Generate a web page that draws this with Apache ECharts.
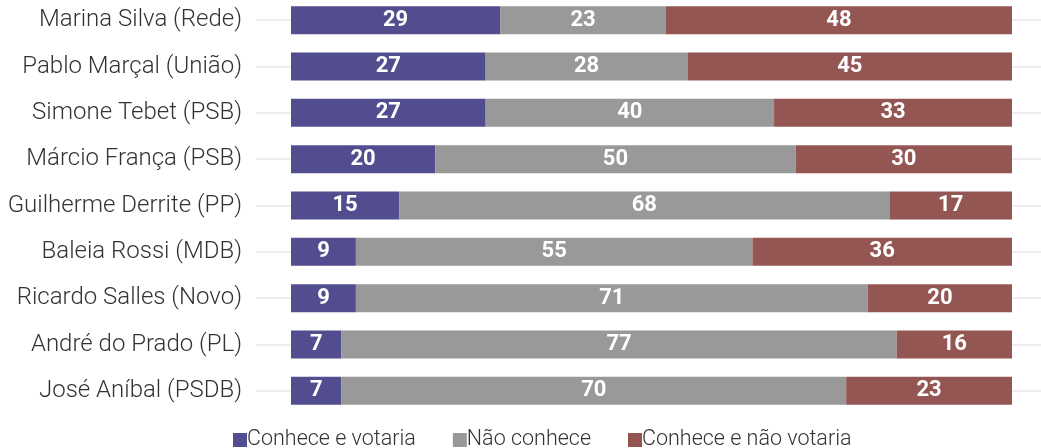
<!DOCTYPE html>
<html>
<head>
<meta charset="utf-8">
<script src="https://cdn.jsdelivr.net/npm/echarts@6/dist/echarts.min.js"></script>
<style>
html,body{margin:0;padding:0;background:#fff;overflow:hidden;}
#chart{position:absolute;left:0;top:-3px;width:1041px;height:451px;}
</style>
</head>
<body>
<div id="chart"></div>
<script>
const categories = [
  "Marina Silva (Rede)",
  "Pablo Marçal (União)",
  "Simone Tebet (PSB)",
  "Márcio França (PSB)",
  "Guilherme Derrite (PP)",
  "Baleia Rossi (MDB)",
  "Ricardo Salles (Novo)",
  "André do Prado (PL)",
  "José Aníbal (PSDB)"
];
const seriesNames = ["Conhece e votaria", "Não conhece", "Conhece e não votaria"];
const conheceVotaria = [29, 27, 27, 20, 15, 9, 9, 7, 7];
const naoConhece = [23, 28, 40, 50, 68, 55, 71, 77, 70];
const conheceNaoVotaria = [48, 45, 33, 30, 17, 36, 20, 16, 23];
const colors = ["#524D8F", "#999999", "#935653"];

const chart = echarts.init(document.getElementById('chart'));
const values = [conheceVotaria, naoConhece, conheceNaoVotaria];
const font = 'Roboto';

chart.setOption({
  animation: false,
  textStyle: { fontFamily: font },
  grid: { left: 291, right: 29, top: 0, height: 417, containLabel: false },
  legend: {
    left: 228,
    top: 427,
    itemWidth: 14,
    itemHeight: 14,
    itemGap: 37,
    icon: 'rect',
    textStyle: { fontSize: 21.5, fontWeight: 300, color: '#333', fontFamily: font, padding: [0, 0, 0, -5] },
    data: seriesNames
  },
  xAxis: { type: 'value', min: 0, max: 100, show: false },
  yAxis: [
    {
      type: 'category',
      inverse: true,
      data: categories,
      axisLine: { show: false },
      axisTick: { show: true, alignWithLabel: true, length: 35, lineStyle: { color: '#e8e8e8', width: 1.5 } },
      axisLabel: { margin: 49, fontSize: 24, fontWeight: 300, color: '#333', fontFamily: font },
      splitLine: { show: false }
    },
    {
      type: 'category',
      inverse: true,
      position: 'right',
      data: categories,
      axisLine: { show: false },
      axisTick: { show: true, alignWithLabel: true, length: 32, lineStyle: { color: '#e8e8e8', width: 1.5 } },
      axisLabel: { show: false },
      splitLine: { show: false }
    }
  ],
  series: seriesNames.map((name, i) => ({
    name: name,
    type: 'bar',
    stack: 'total',
    barWidth: 28,
    data: values[i],
    itemStyle: { color: colors[i] },
    label: {
      show: true,
      position: 'inside',
      color: '#fff',
      fontSize: 22,
      fontWeight: 'bold',
      fontFamily: font
    }
  }))
});
</script>
</body>
</html>
